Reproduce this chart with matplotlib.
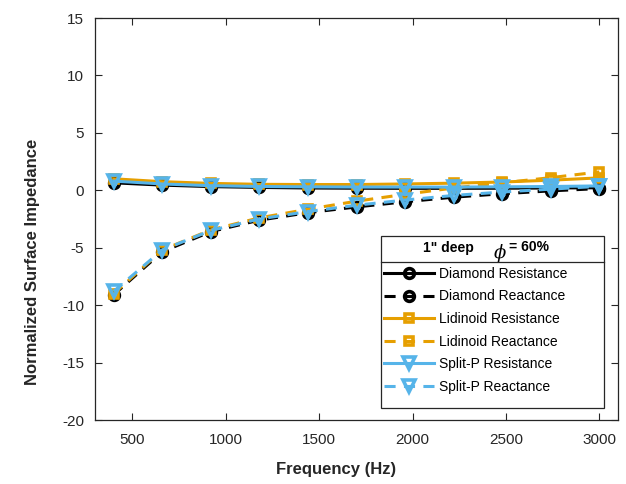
import matplotlib
matplotlib.use("Agg")
import matplotlib.pyplot as plt
from matplotlib.patches import Rectangle
from matplotlib.lines import Line2D

plt.rcParams['font.family'] = ['Liberation Sans', 'DejaVu Sans']
plt.rcParams['lines.scale_dashes'] = False
plt.rcParams['mathtext.fontset'] = 'dejavuserif'
plt.rcParams['axes.unicode_minus'] = False

freq = [400, 660, 920, 1180, 1440, 1700, 1960, 2220, 2480, 2740, 3000]
diamond_R = [0.65, 0.45, 0.32, 0.25, 0.2, 0.18, 0.17, 0.17, 0.18, 0.2, 0.22]
diamond_X = [-9.1, -5.35, -3.6, -2.6, -1.95, -1.45, -1.0, -0.6, -0.3, -0.05, 0.15]
lidinoid_R = [1.0, 0.75, 0.6, 0.52, 0.5, 0.5, 0.55, 0.62, 0.72, 0.88, 1.08]
lidinoid_X = [-9.0, -5.2, -3.45, -2.4, -1.65, -0.95, -0.35, 0.2, 0.65, 1.1, 1.6]
splitp_R = [0.8, 0.55, 0.4, 0.33, 0.3, 0.28, 0.28, 0.28, 0.3, 0.33, 0.38]
splitp_X = [-8.8, -5.2, -3.5, -2.5, -1.85, -1.3, -0.85, -0.45, -0.15, 0.1, 0.35]

xticks = [500, 1000, 1500, 2000, 2500, 3000]
yticks = [-20, -15, -10, -5, 0, 5, 10, 15]

BLACK = '#000000'
ORANGE = '#E69F00'
BLUE = '#56B4E9'
DASH = (0, (8, 6))

fig = plt.figure(figsize=(6.26, 4.84), dpi=100)
ax = fig.add_axes([95/626, 1-420/484, 523/626, 402/484])

series = [
    (diamond_R, BLACK, '-', 'o', 7, 'Diamond Resistance'),
    (diamond_X, BLACK, DASH, 'o', 7, 'Diamond Reactance'),
    (lidinoid_R, ORANGE, '-', 's', 6, 'Lidinoid Resistance'),
    (lidinoid_X, ORANGE, DASH, 's', 6, 'Lidinoid Reactance'),
    (splitp_R, BLUE, '-', 'v', 8, 'Split-P Resistance'),
    (splitp_X, BLUE, DASH, 'v', 8, 'Split-P Reactance'),
]
handles = []
for vals, c, ls, m, ms, lab in series:
    h, = ax.plot(freq, vals, color=c, linestyle=ls, linewidth=2.2, marker=m,
                 markersize=ms, markerfacecolor='none', markeredgecolor=c,
                 markeredgewidth=2.6, label=lab)
    handles.append(h)

ax.set_xlim(300, 3100)
ax.set_ylim(-20, 15)
ax.set_xticks(xticks)
ax.set_yticks(yticks)
ax.tick_params(direction='in', length=5, width=0.8, colors='#262626',
               labelsize=11, top=True, right=True, pad=8)
ax.tick_params(axis='x', pad=9)
for s in ax.spines.values():
    s.set_color('#262626')
    s.set_linewidth(0.9)

ax.set_xlabel('Frequency (Hz)', fontsize=12, fontweight='bold', color='#262626', labelpad=11)
ax.set_ylabel('Normalized Surface Impedance', fontsize=12, fontweight='bold', color='#262626', labelpad=16)
ax.xaxis.set_label_coords(0.46, -0.105)
ax.yaxis.label.set_y(0.393)

# legend box
def ax_x(px):
    return (px - 95) / 523
def ax_y(py):
    return (420 - py) / 402

box = Rectangle((ax_x(381), ax_y(408)), ax_x(604) - ax_x(381), ax_y(236) - ax_y(408),
                transform=ax.transAxes, facecolor='white', edgecolor='#262626',
                linewidth=0.9, zorder=5)
ax.add_patch(box)
ax.add_line(Line2D([ax_x(381), ax_x(604)], [ax_y(262), ax_y(262)], transform=ax.transAxes,
                   color='#262626', linewidth=0.9, zorder=6))
ax.text(ax_x(448), ax_y(248), '1" deep', transform=ax.transAxes, ha='center', va='center',
        fontsize=10, fontweight='bold', zorder=7)
ax.text(ax_x(500), ax_y(253), r'$\phi$', transform=ax.transAxes, ha='center', va='center',
        fontsize=13, zorder=7)
ax.text(ax_x(509), ax_y(247), '= 60%', transform=ax.transAxes, ha='left', va='center',
        fontsize=10, fontweight='bold', zorder=7)

leg = ax.legend(handles=handles, loc='upper left',
                bbox_to_anchor=(ax_x(381), ax_y(264)), frameon=False, fontsize=10,
                handlelength=3.6, handletextpad=0.35, labelspacing=0.62,
                borderpad=0.2, borderaxespad=0)
leg.set_zorder(8)

fig.savefig('out.png', dpi=100)
